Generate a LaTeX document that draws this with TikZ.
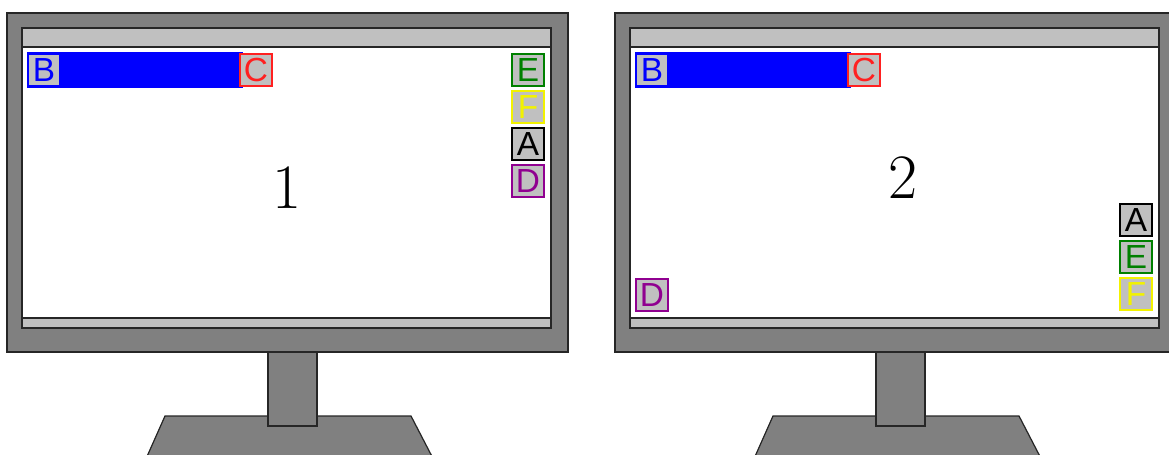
\documentclass[tikz,border=0pt]{standalone}
\usepackage{fontspec}
\setsansfont{Liberation Sans}
\usepackage{xcolor}
\usepackage{tikz}
\usetikzlibrary{positioning}

\definecolor{bezel}{HTML}{808080}
\definecolor{panel}{HTML}{C0C0C0}
\definecolor{wingreen}{HTML}{008000}
\definecolor{winyellow}{HTML}{F2F200}
\definecolor{winpurple}{HTML}{900090}
\definecolor{winred}{HTML}{FF2020}

\begin{document}
\begin{tikzpicture}[
    x=0.02cm, y=-0.02cm,
    node distance=0.06cm,
    frame/.style={draw=black!85, line width=0.7pt, fill=#1},
    frame/.default=bezel,
    win/.style={draw=#1, fill=panel, text=#1, line width=1.1pt, minimum size=0.64cm,
                inner sep=0pt, font=\sffamily\fontsize{19}{19}\selectfont},
    win/.default=black,
    tag/.style={font=\fontsize{36}{36}\selectfont}
]
\useasboundingbox (0,0) rectangle (1169,454);
\clip (0,0) rectangle (1169,454);

% Monitors (second one shifted right)
\foreach \s in {0,608} {
  \begin{scope}[shift={(\s,0)}]
    \draw[frame] (165,416) -- (411,416) -- (439,470) -- (141,470) -- cycle;
    \draw[frame] (7,13) rectangle (568,352);
    \draw[frame=white] (22,28) rectangle (551,328);
    \draw[frame=panel] (22,28) rectangle (551,47);
    \draw[frame=panel] (22,318) rectangle (551,328);
    \draw[frame] (268,352) rectangle (317,426);
    % task bar
    \draw[fill=blue, draw=blue, line width=1.1pt] (28,53) rectangle (242,87);
  \end{scope}
}

% Screen 1
\node[win=blue] (b1) at (44,70) {B};
\node[win=winred] (c1) at (256,70) {C};
\node[win=wingreen] (e1) at (528,70) {E};
\node[win=winyellow, below=of e1] (f1) {F};
\node[win, below=of f1] (a1) {A};
\node[win=winpurple, below=of a1] (d1) {D};
\node[tag] (n1) at (287,188) {1};

% Screen 2
\node[win=blue] (b2) at (652,70) {B};
\node[win=winred] (c2) at (864,70) {C};
\node[win] (a2) at (1136,220) {A};
\node[win=wingreen, below=of a2] (e2) {E};
\node[win=winyellow, below=of e2] (f2) {F};
\node[win=winpurple] (d2) at (652,295) {D};
\node[tag] (n2) at (903,178) {2};

\end{tikzpicture}
\end{document}
